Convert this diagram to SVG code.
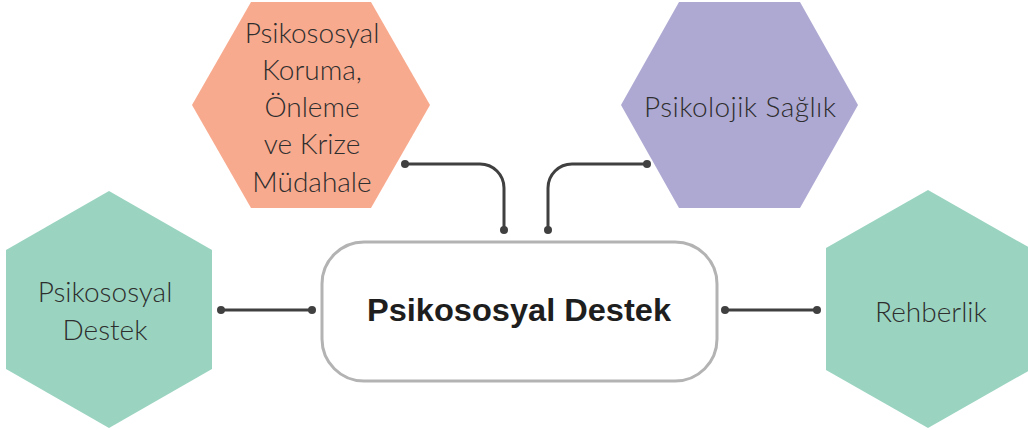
<svg xmlns="http://www.w3.org/2000/svg" width="1028" height="430" viewBox="0 0 1028 430">
<style>
.lbl{font-family:Lato,"Liberation Sans",sans-serif;font-weight:300;font-size:28px;fill:#2e2e2e;text-anchor:middle}
.title{font-family:"Liberation Sans",Arial,sans-serif;font-weight:bold;font-size:32px;fill:#1e1e1e;text-anchor:middle}
.ln{fill:none;stroke:#404040;stroke-width:3}
.dot{fill:#404040}
</style>
<rect width="1028" height="430" fill="#fff"/>
<g id="node-koruma">
<polygon points="251,2 371,2 430,105 371,208 251,208 192,105" fill="#f8aa8e"/>
<text class="lbl" x="312" y="43">Psikososyal</text>
<text class="lbl" x="312" y="80">Koruma,</text>
<text class="lbl" x="312" y="117">Önleme</text>
<text class="lbl" x="312" y="154">ve Krize</text>
<text class="lbl" x="312" y="192">Müdahale</text>
</g>
<g id="node-psikolojik">
<polygon points="679,2 800,2 858,105 800,208 679,208 621,105" fill="#aea9d3"/>
<text class="lbl" x="740" y="117" textLength="192" lengthAdjust="spacing">Psikolojik Sağlık</text>
</g>
<g id="node-destek-left">
<polygon points="109,191 212,250 212,369 109,428 6,369 6,250" fill="#9ad4c0"/>
<text class="lbl" x="105" y="302">Psikososyal</text>
<text class="lbl" x="105" y="340">Destek</text>
</g>
<g id="node-rehberlik">
<polygon points="928,190 1030,248 1030,370 928,428 826,370 826,248" fill="#9ad4c0"/>
<text class="lbl" x="931" y="322">Rehberlik</text>
</g>
<g id="node-center">
<rect x="322" y="242" width="395" height="139" rx="42" ry="42" fill="#fff" stroke="#b3b3b3" stroke-width="3"/>
<text class="title" x="519" y="321" textLength="304" lengthAdjust="spacingAndGlyphs">Psikososyal Destek</text>
</g>
<g id="connectors">
<path class="ln" d="M221,310 H312"/>
<circle class="dot" cx="221" cy="310" r="4"/>
<circle class="dot" cx="312" cy="310" r="4"/>
<path class="ln" d="M725,310 H817"/>
<circle class="dot" cx="725" cy="310" r="4"/>
<circle class="dot" cx="817" cy="310" r="4"/>
<path class="ln" d="M405,164 H480 A24,24 0 0 1 504,188 V230"/>
<circle class="dot" cx="405" cy="164" r="4"/>
<circle class="dot" cx="504" cy="230" r="4"/>
<path class="ln" d="M647,164 H572 A24,24 0 0 0 548,188 V230"/>
<circle class="dot" cx="647" cy="164" r="4"/>
<circle class="dot" cx="548" cy="230" r="4"/>
</g>
</svg>
